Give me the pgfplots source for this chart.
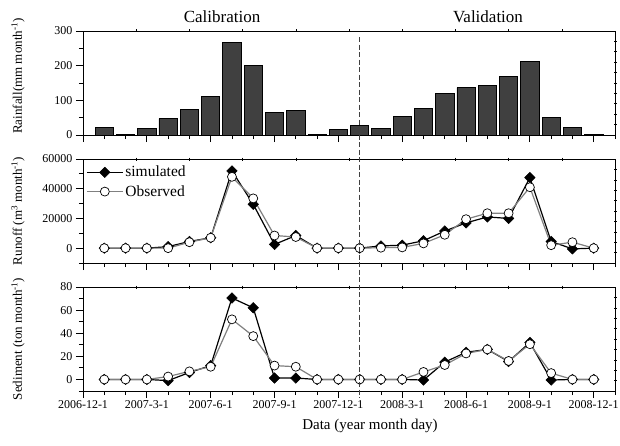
\documentclass[border=0pt]{standalone}
\usepackage{fontspec}
\setmainfont{Liberation Serif}
\usepackage{pgfplots}
\pgfplotsset{compat=1.18}
\definecolor{bargray}{RGB}{64,64,64}
\definecolor{obsgray}{RGB}{128,128,128}
\pgfplotsset{
 panel/.style={
   scale only axis, width=532pt, height=104pt, anchor=south west,
   xmin=0, xmax=25,
   xtick={0,3,...,24},
   minor xtick={1,2,4,5,7,8,10,11,13,14,16,17,19,20,22,23,25},
   xtick pos=left, ytick pos=left,
   tick align=outside,
   major tick length=7pt, minor tick length=4pt,
   every tick/.style={black, line width=0.8pt},
   axis line style={line width=0.9pt},
   tick label style={font=\fontsize{12}{14}\selectfont},
   xticklabel style={yshift=1pt},
   /pgf/number format/assume math mode=true,
   /pgf/number format/1000 sep={},
   scaled y ticks=false,
   every axis y label/.style={at={(axis description cs:-0.115,0.5)}, anchor=base, rotate=90, font=\fontsize{13}{15}\selectfont},
   xticklabels={},
 },
 overlayax/.style={scale only axis, width=532pt, height=104pt, anchor=south west,
   xmin=0,xmax=10,ymin=0,ymax=10, axis x line*=top, axis y line*=right,
   xtick={1,...,9}, ytick={1,...,9}, xticklabels={}, yticklabels={},
   tick align=center, major tick length=3pt,
   every tick/.style={black,line width=0.6pt}, axis line style={line width=0.9pt}},
 sim/.style={black, line width=1.2pt, mark=square*, mark size=3.7pt,
   mark options={rotate=45, fill=black, solid, line width=0.5pt}},
 obs/.style={obsgray, line width=1.2pt, mark=*, mark size=4.5pt,
   mark options={fill=white, draw=black, line width=0.7pt}},
}
\pgfplotstableread{
m rain
1 21
2 1
3 19
4 47
5 73
6 111
7 266
8 200
9 64
10 71
11 1
12 16
13 27
14 19
15 54
16 77
17 120
18 137
19 144
20 170
21 212
22 51
23 22
24 1
}\rain
\pgfplotstableread{
m sim obs
1 0 0
2 0 0
3 0 0
4 1000 0
5 4500 4000
6 7000 7000
7 52000 48000
8 29500 33500
9 2500 8500
10 8500 7500
11 0 0
12 0 0
13 0 0
14 1500 300
15 2000 500
16 5000 3200
17 11500 9000
18 17000 19500
19 21000 23500
20 20000 23500
21 47500 41000
22 4500 2000
23 -500 4000
24 0 0
}\runoff
\pgfplotstableread{
m sim obs
1 0 0
2 0 0
3 0 0
4 -1 2.5
5 6 7
6 12 11
7 70.5 52
8 62 37.5
9 1.2 12
10 1.2 11
11 0 0
12 0 0
13 0 0
14 0 0
15 0 0
16 -0.5 6.5
17 15 12.5
18 23.5 22.5
19 26 26
20 15.5 16
21 32 30.5
22 -0.5 5.5
23 0 0
24 0 0
}\sed
\begin{document}
\begin{tikzpicture}
\path[use as bounding box] (0pt,0pt) rectangle (620pt,445pt);
% Rainfall
\begin{axis}[panel, at={(83pt,310pt)}, ymin=0, ymax=300,
  ytick={0,100,200,300}, minor ytick={50,150,250},
  ylabel={Rainfall(mm month\textsuperscript{-1})},
  every axis y label/.style={at={(axis description cs:-0.115,0.567)}, anchor=base, rotate=90, font=\fontsize{13}{15}\selectfont}]
\addplot[ybar, bar width=0.86, fill=bargray, draw=black, line width=0.7pt] table[x=m,y=rain]{\rain};
\coordinate (dt) at (axis cs:13,282);
\end{axis}
\begin{axis}[overlayax, at={(83pt,310pt)}]
\end{axis}
% Runoff
\begin{axis}[panel, at={(83pt,182pt)}, ymin=-10000, ymax=60000,
  ytick={0,20000,40000,60000}, minor ytick={-10000,10000,30000,50000},
  ylabel={Runoff (m\textsuperscript{3} month\textsuperscript{-1})},
  legend style={at={(axis description cs:0,1)}, anchor=north west, draw=none, fill=none,
    yshift=-3pt, row sep=3pt,
    font=\fontsize{15.5}{17}\selectfont},
  legend cell align=left,
  legend image code/.code={\draw[mark repeat=2,mark phase=2,#1] plot coordinates {(0pt,0pt)(18pt,0pt)(36pt,0pt)};}]
\addplot[sim] table[x=m,y=sim]{\runoff};
\addplot[obs] table[x=m,y=obs]{\runoff};
\legend{simulated,Observed}
\end{axis}
\begin{axis}[overlayax, at={(83pt,182pt)}]
\end{axis}
% Sediment
\begin{axis}[panel, at={(83pt,54pt)}, ymin=-10, ymax=80,
  ytick={0,20,40,60,80}, minor ytick={-10,10,30,50,70},
  xticklabels={2006-12-1,2007-3-1,2007-6-1,2007-9-1,2007-12-1,2008-3-1,2008-6-1,2008-9-1,2008-12-1},
  ylabel={Sediment (ton month\textsuperscript{-1})}]
\addplot[sim] table[x=m,y=sim]{\sed};
\addplot[obs] table[x=m,y=obs]{\sed};
\coordinate (db) at (axis cs:13,-16);
\end{axis}
\begin{axis}[overlayax, at={(83pt,54pt)}]
\end{axis}
\draw[black!75, line width=0.8pt, dash pattern=on 5pt off 2.5pt] (dt) -- (db);
\node[anchor=base, font=\fontsize{17}{20}\selectfont] at (222pt,422.3pt) {Calibration};
\node[anchor=base, font=\fontsize{17}{20}\selectfont] at (488pt,422.3pt) {Validation};
\node[anchor=base, font=\fontsize{15}{18}\selectfont] at (370pt,15.7pt) {Data (year month day)};
\end{tikzpicture}
\end{document}
